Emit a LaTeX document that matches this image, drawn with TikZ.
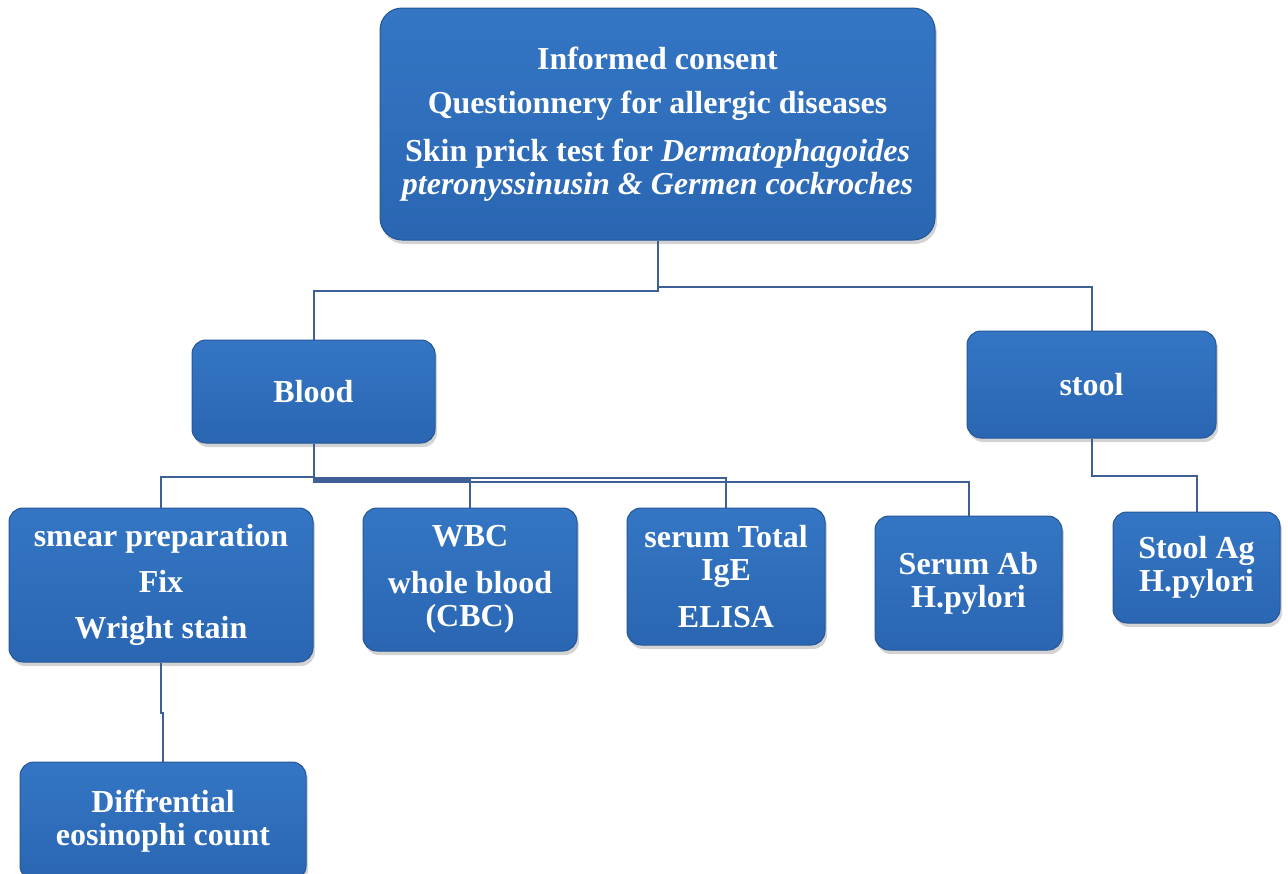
\documentclass[tikz,border=0pt]{standalone}
\usepackage{fontspec}
\setmainfont{Liberation Serif}
\usetikzlibrary{shadows}
\definecolor{boxtop}{RGB}{52,118,196}
\definecolor{boxbot}{RGB}{42,102,178}
\definecolor{boxedge}{RGB}{36,86,150}
\definecolor{linec}{RGB}{62,96,150}
\begin{document}
\begin{tikzpicture}[x=1pt,y=-1pt,
  box/.style={draw=boxedge, line width=1pt, rounded corners=14pt,
    top color=boxtop, bottom color=boxbot, text=white,
    font=\bfseries\fontsize{32}{33}\selectfont, align=center, inner sep=0pt,
    drop shadow={shadow xshift=2pt, shadow yshift=-4pt, opacity=0.35}},
  conn/.style={draw=linec, line width=2pt}]
\useasboundingbox (0,0) rectangle (1288,873);
\node[box, minimum width=555, minimum height=232, rounded corners=22pt] (top) at (657.5,124)
  {Informed consent\\[11pt]Questionnery for allergic diseases\\[15pt]Skin prick test for \textit{Dermatophagoides}\\\textit{pteronyssinusin \& Germen cockroches}};
\node[box, minimum width=243, minimum height=103] (blood) at (313.5,391.5) {Blood};
\node[box, minimum width=249, minimum height=107] (stool) at (1091.5,384.5) {stool};
\node[box, minimum width=304, minimum height=154] (smear) at (161,585) {smear preparation\\[13pt]Fix\\[13pt]Wright stain};
\node[box, minimum width=214, minimum height=143] (wbc) at (470,579.5) {WBC\\[14pt]whole blood\\(CBC)};
\node[box, minimum width=198, minimum height=137] (serum) at (726,576.5) {serum Total\\IgE\\[14pt]ELISA};
\node[box, minimum width=187, minimum height=134] (serab) at (968.5,583) {Serum Ab\\H.pylori};
\node[box, minimum width=167, minimum height=111] (stoolag) at (1196.5,567.5) {Stool Ag\\H.pylori};
\node[box, minimum width=286, minimum height=118] (diff) at (163,821) {Diffrential\\eosinophi count};
\draw[conn] (top.south) -- ++(0,50) -| (blood.north);
\draw[conn] (top.south) -- ++(0,46) -| (stool.north);
\draw[conn] (blood.south) -- ++(0,33) -| (smear.north);
\draw[conn] (blood.south) -- ++(0,36) -| (wbc.north);
\draw[conn] (blood.south) -- ++(0,34) -| (serum.north);
\draw[conn] (blood.south) -- ++(0,38) -| (serab.north);
\draw[conn] (smear.south) -- ++(0,50) -| (diff.north);
\draw[conn] (stool.south) -- ++(0,37) -| (stoolag.north);
\end{tikzpicture}
\end{document}
